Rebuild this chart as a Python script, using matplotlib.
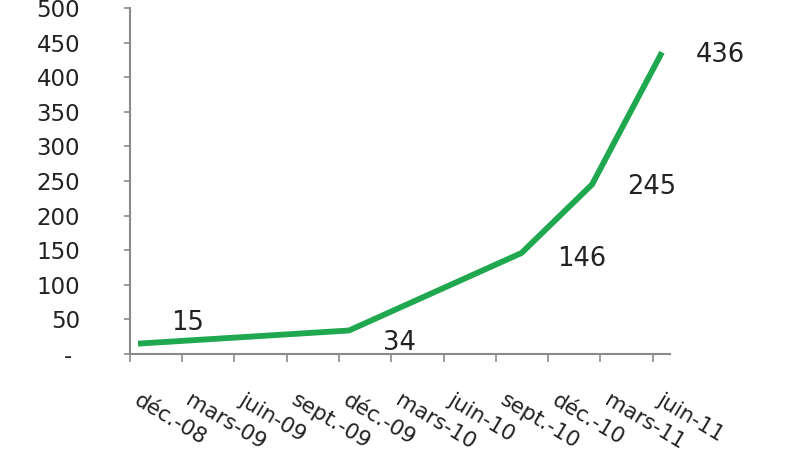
import matplotlib
matplotlib.use("Agg")
import matplotlib.pyplot as plt
import matplotlib.dates as mdates
import numpy as np

# ---- data ----
dates  = ["2008-12-15", "2009-12-18", "2010-10-15", "2011-02-15", "2011-06-17"]
values = [15, 34, 146, 245, 436]

tick_dates  = ["2008-12-01", "2009-03-01", "2009-06-01", "2009-09-01", "2009-12-01",
               "2010-03-01", "2010-06-01", "2010-09-01", "2010-12-01", "2011-03-01",
               "2011-06-01"]
tick_labels = ["déc.-08", "mars-09", "juin-09", "sept.-09", "déc.-09", "mars-10",
               "juin-10", "sept.-10", "déc.-10", "mars-11", "juin-11"]
y_ticks  = [0, 50, 100, 150, 200, 250, 300, 350, 400, 450, 500]
y_labels = ["- "] + [str(v) for v in y_ticks[1:]]

GREEN = "#1fa84f"; INK = "#222222"; AXIS = "#8a8a8a"
plt.rcParams.update({"font.family": "DejaVu Sans"})

x = mdates.datestr2num(dates)
xt = mdates.datestr2num(tick_dates)

fig = plt.figure(figsize=(8, 4.53), dpi=100)
ax = fig.add_axes([0.1625, 0.2185, 0.675, 0.7638])
ax.plot(x, values, color=GREEN, lw=4.2, solid_capstyle="butt", solid_joinstyle="miter")

ax.set_xlim(xt[0], mdates.datestr2num("2011-07-01"))
ax.set_ylim(0, 500)
ax.set_yticks(y_ticks)
ax.set_yticklabels(y_labels, fontsize=16.5, color=INK)
ax.set_xticks(xt)
ax.set_xticklabels([])
ax.tick_params(axis="y", length=4, width=1.2, color=AXIS, pad=32)
ax.tick_params(axis="x", length=6, width=1.2, color=AXIS)

for s in ["top", "right"]:
    ax.spines[s].set_visible(False)
for s in ["left", "bottom"]:
    ax.spines[s].set_color(AXIS)
    ax.spines[s].set_linewidth(1.5)

# rotated date labels
for d, lab in zip(xt, tick_labels):
    ax.annotate(lab, xy=(d, 0), xycoords=("data", "axes fraction"),
                xytext=(8, -26), textcoords="offset points",
                rotation=-31, rotation_mode="anchor", ha="left", va="top",
                fontsize=15.5, color=INK, annotation_clip=False)

# data labels (offsets in points)
offsets = [(36, 15), (36, -9), (43, -4), (43, -2), (42, -2)]
for xi, v, off in zip(x, values, offsets):
    ax.annotate(str(v), xy=(xi, v), xytext=off, textcoords="offset points",
                ha="center", va="center", fontsize=18.5, color=INK,
                annotation_clip=False)

fig.savefig("out.png", facecolor="white")
plt.close(fig)
